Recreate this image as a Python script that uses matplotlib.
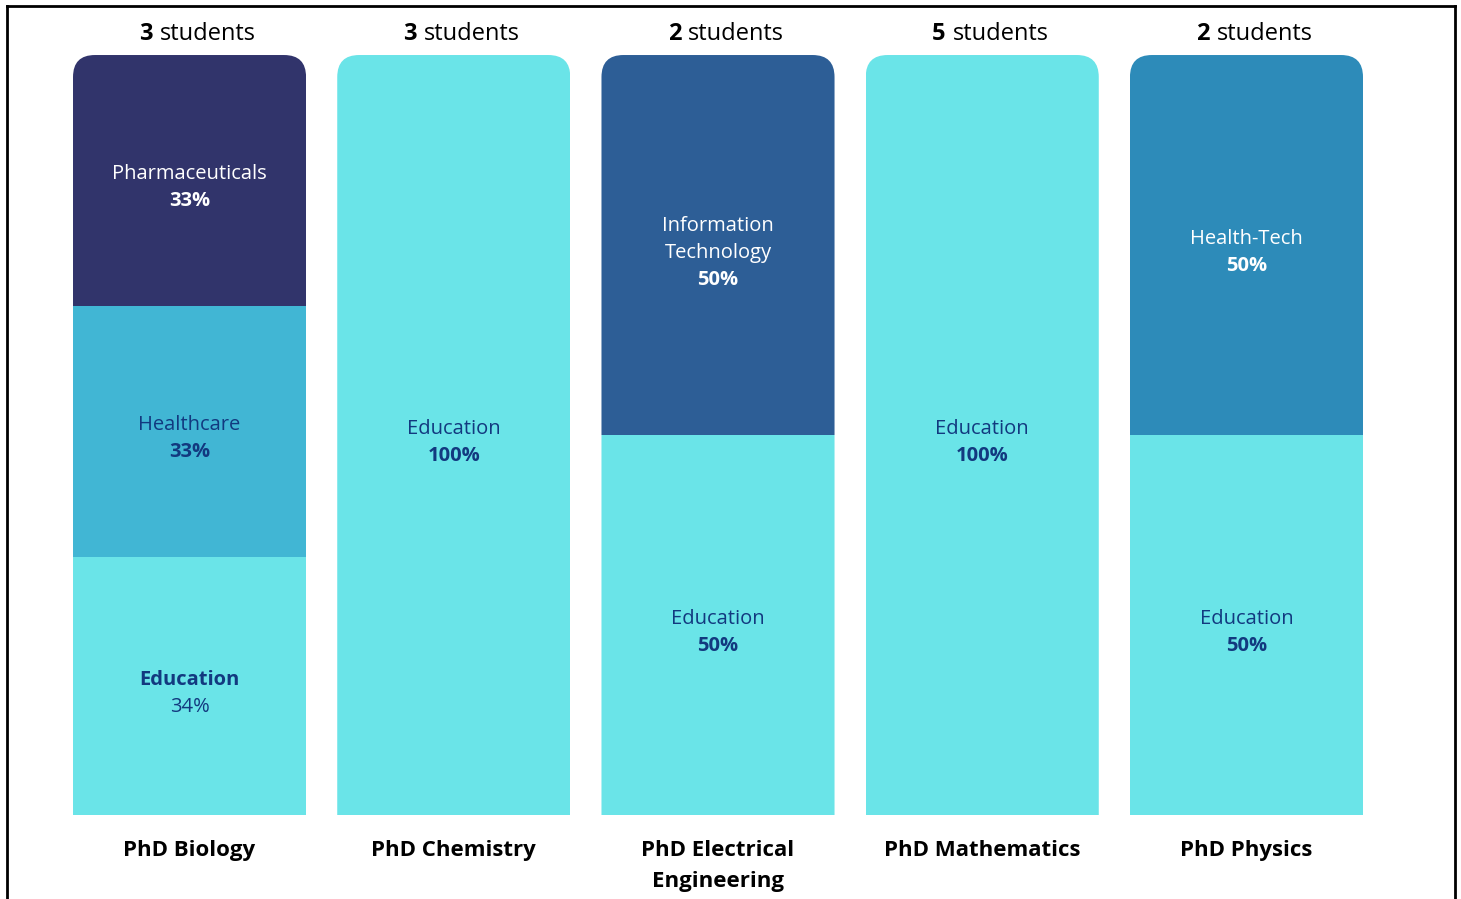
import matplotlib.pyplot as plt
from matplotlib.patches import FancyBboxPatch
from matplotlib.lines import Line2D

plt.rcParams['font.family'] = ['Open Sans', 'DejaVu Sans']

programs = ['PhD Biology', 'PhD Chemistry', 'PhD Electrical\nEngineering',
            'PhD Mathematics', 'PhD Physics']
students = [3, 3, 2, 5, 2]

# sectors per programme, bottom to top, with share of graduates (%)
sectors = [
    ['Education', 'Healthcare', 'Pharmaceuticals'],
    ['Education'],
    ['Education', 'Information\nTechnology'],
    ['Education'],
    ['Education', 'Health-Tech'],
]
shares = [
    [34, 33, 33],
    [100],
    [50, 50],
    [100],
    [50, 50],
]

colors = {
    'Education': '#6AE4E8',
    'Healthcare': '#41B6D4',
    'Pharmaceuticals': '#31346B',
    'Information\nTechnology': '#2D5E96',
    'Health-Tech': '#2D8BB9',
}
dark_text = '#12397F'
light_fill = ['Education', 'Healthcare']

fig = plt.figure(figsize=(14.61, 8.99), dpi=100)
ax = fig.add_axes((0.0393, 0.0934, 0.9043, 0.8454))
ax.set_xlim(-0.5, 4.5)
ax.set_ylim(0, 1)
ax.axis('off')

bar_w = 0.882
rad = 0.083
aspect = (22 / 760) / rad
line_px = 27

for i in range(len(programs)):
    # rounded-top outline used to clip the stacked segments
    clip = FancyBboxPatch((i - bar_w / 2, -0.2), bar_w, 1.2,
                          boxstyle=f'round,pad=0,rounding_size={rad}',
                          mutation_aspect=aspect, transform=ax.transData,
                          facecolor='none', edgecolor='none')
    ax.add_patch(clip)
    bottom = 0
    for name, pct in zip(sectors[i], shares[i]):
        h = pct / 100
        bars = ax.bar(i, h, bottom=bottom, width=bar_w, color=colors[name],
                      linewidth=0)
        for b in bars:
            b.set_clip_path(clip)

        txt_color = dark_text if name in light_fill else 'white'
        # Biology's education share is written the other way round
        swap = (i == 0 and name == 'Education')
        lines = [(s, 'bold' if swap else 'normal') for s in name.split('\n')]
        lines.append((f'{pct}%', 'normal' if swap else 'bold'))
        n = len(lines)
        yc = bottom + h / 2
        for k, (s, w) in enumerate(lines):
            dy = -(k - (n - 1) / 2) * line_px - 5
            ax.annotate(s, (i, yc), xytext=(0, dy), textcoords='offset pixels',
                        ha='center', va='center_baseline', fontsize=14.5,
                        fontweight=w, color=txt_color)
        bottom += h

    ax.annotate(programs[i], (i, 0), xytext=(0, -25), textcoords='offset pixels',
                ha='center', va='top', fontsize=16, fontweight='bold',
                color='black', linespacing=1.65)

# "N students" headers: bold count followed by regular word, centred together
renderer = fig.canvas.get_renderer()
for i, n in enumerate(students):
    t1 = ax.annotate(str(n), (i, 1), xytext=(0, 24), textcoords='offset pixels',
                     ha='left', va='center_baseline', fontsize=17,
                     fontweight='bold', color='black')
    t2 = ax.annotate('students', (i, 1), xytext=(0, 24),
                     textcoords='offset pixels', ha='left',
                     va='center_baseline', fontsize=17, color='black')
    w1 = t1.get_window_extent(renderer).width
    w2 = t2.get_window_extent(renderer).width
    gap = 7
    left = -(w1 + gap + w2) / 2 + 8
    t1.set_position((left, 24))
    t2.set_position((left + w1 + gap, 24))

# frame around the chart
for xs, ys in [((0.0051, 0.0051), (0, 0.9933)),
               ((0.0051, 0.9959), (0.9933, 0.9933)),
               ((0.9959, 0.9959), (0.9933, 0))]:
    fig.add_artist(Line2D(xs, ys, transform=fig.transFigure, color='black',
                          linewidth=2))

fig.savefig('out.png', dpi=100)
